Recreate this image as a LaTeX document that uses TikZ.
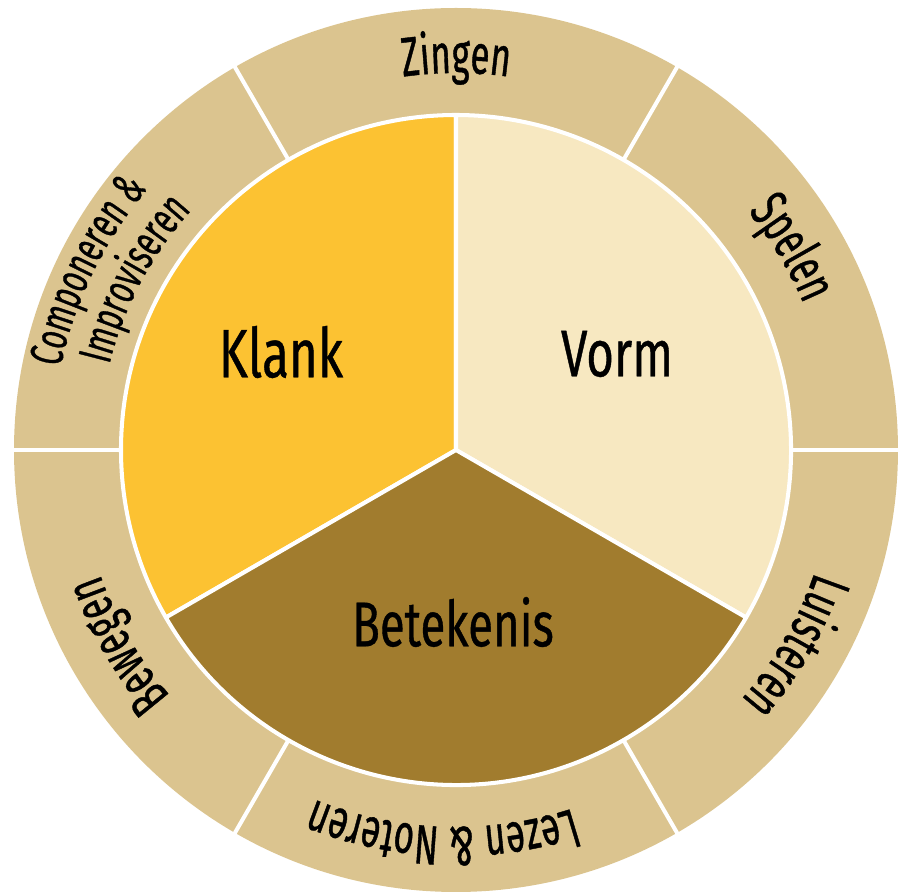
\documentclass[tikz,border=0pt]{standalone}
\usepackage{fontspec}
\newfontfamily\wheelfont{Fira Sans}[FakeStretch=0.72, FakeBold=0.6]
\newfontfamily\ringfont{Fira Sans}[FakeStretch=0.63, FakeBold=0.7]
\usetikzlibrary{decorations.text}
\definecolor{ringtan}{RGB}{219,196,143}
\definecolor{klankgeel}{RGB}{252,194,50}
\definecolor{vormcreme}{RGB}{247,232,193}
\definecolor{betekenisbruin}{RGB}{161,124,46}
\newcommand{\ringsize}{\fontsize{31.5}{31.5}\selectfont}
\newcommand{\ringsmall}{\fontsize{26.5}{26.5}\selectfont}
\tikzset{
  sep/.style={draw=white, line width=2.3pt},
  sector/.style={draw=white, line width=2.3pt, line join=round},
  centrelabel/.style={font=\wheelfont\fontsize{39}{40}\selectfont},
  ringtext/.style={decorate, decoration={text along path, text align=center,
    text={|\ringfont\ringsize|#1}}},
  ringtextsmall/.style={decorate, decoration={text along path, text align=center,
    text={|\ringfont\ringsmall|#1}}},
}

\begin{document}
\begin{tikzpicture}[x=0.02cm, y=0.02cm]
    \useasboundingbox (-456,-445) rectangle (448,450);

    % buitenring met zes vakken
    \fill[ringtan] (0,0) circle (442);
    \foreach \a in {0,60,...,300}
        \draw[sep] (\a:334) -- (\a:446);

    % binnencirkel: drie sectoren
    \filldraw[sector, fill=klankgeel] (0,0) -- (90:335) arc[start angle=90, end angle=210, radius=335] -- cycle;
    \filldraw[sector, fill=vormcreme] (0,0) -- (-30:335) arc[start angle=-30, end angle=90, radius=335] -- cycle;
    \filldraw[sector, fill=betekenisbruin] (0,0) -- (210:335) arc[start angle=210, end angle=330, radius=335] -- cycle;

    % namen van de sectoren
    \node[centrelabel] (klank) at (-175,98) {Klank};
    \node[centrelabel, font=\wheelfont\fontsize{37.5}{40}\selectfont] (vorm) at (161,96) {Vorm};
    \node[centrelabel, font=\wheelfont\fontsize{36}{40}\selectfont] (betekenis) at (-3,-172) {Betekenis};

    % teksten in de ring (met de klok mee)
    \path[ringtext={Zingen}] (120:377) arc[start angle=120, end angle=60, radius=377];
    \path[ringtext={Spelen}] (61:377) arc[start angle=61, end angle=1, radius=377];
    \path[ringtext={Luisteren}] (0:379) arc[start angle=0, end angle=-60, radius=379];
    \path[ringtext={Lezen {\&} Noteren}] (298:377) arc[start angle=298, end angle=238, radius=377];
    \path[ringtext={Bewegen}] (240:377) arc[start angle=240, end angle=180, radius=377];
    \path[ringtextsmall={Componeren {\&}}] (184:404) arc[start angle=184, end angle=124, radius=404];
    \path[ringtextsmall={Improviseren}] (182:357) arc[start angle=182, end angle=122, radius=357];
\end{tikzpicture}
\end{document}
